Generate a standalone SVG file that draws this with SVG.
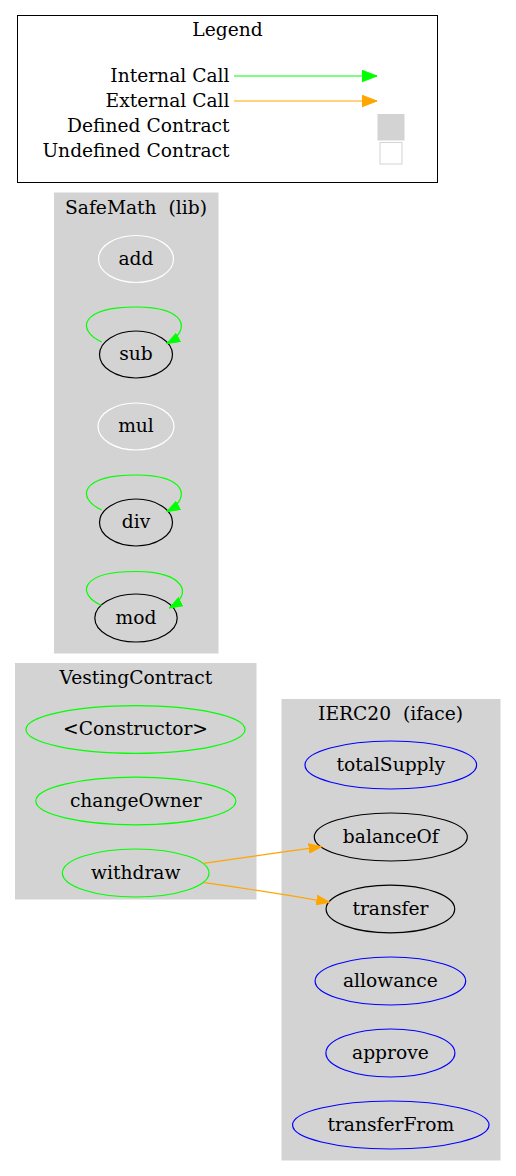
<svg xmlns="http://www.w3.org/2000/svg" width="516" height="1176" viewBox="0 0 516 1176">
<style>
text{font-family:"DejaVu Serif","Liberation Serif",serif;font-size:18.67px;fill:#000;text-anchor:middle;white-space:pre}
.r{text-anchor:end}
.cl{fill:#d3d3d3;stroke:#d3d3d3;stroke-width:1}
.fn{fill:none;stroke-width:1.2}
.k{stroke:#000}.w{stroke:#fff}.g{stroke:#00ff00}.b{stroke:#0000ff}
.ei{fill:none;stroke:#00ff00;stroke-width:1.2;marker-end:url(#ag)}
.ee{fill:none;stroke:#ffa500;stroke-width:1.2;marker-end:url(#ao)}
</style>
<defs>
<marker id="ag" markerUnits="userSpaceOnUse" markerWidth="14" markerHeight="10" refX="13" refY="5" orient="auto"><path d="M0,0.3L13,5L0,9.7z" fill="#00ff00" stroke="#00ff00"/></marker>
<marker id="ao" markerUnits="userSpaceOnUse" markerWidth="14" markerHeight="10" refX="13" refY="5" orient="auto"><path d="M0,0.3L13,5L0,9.7z" fill="#ffa500" stroke="#ffa500"/></marker>
<marker id="lg" markerUnits="userSpaceOnUse" markerWidth="16" markerHeight="13" refX="15" refY="6.5" orient="auto"><path d="M0,0.7L15,6.5L0,12.3z" fill="#00ff00" stroke="#00ff00"/></marker>
<marker id="lo" markerUnits="userSpaceOnUse" markerWidth="16" markerHeight="13" refX="15" refY="6.5" orient="auto"><path d="M0,0.7L15,6.5L0,12.3z" fill="#ffa500" stroke="#ffa500"/></marker>
</defs>
<rect width="516" height="1176" fill="#fff"/>

<g id="legend">
<rect x="17.5" y="15.5" width="420" height="167" fill="#fff" stroke="#000"/>
<text x="227.5" y="36">Legend</text>
<text class="r" x="229.5" y="81.5">Internal Call</text>
<text class="r" x="229.5" y="106.5">External Call</text>
<text class="r" x="229.5" y="131.5">Defined Contract</text>
<text class="r" x="229.5" y="157">Undefined Contract</text>
<path d="M234,76H377" fill="none" stroke="#00ff00" stroke-width="1.2" marker-end="url(#lg)"/>
<path d="M234,101H377" fill="none" stroke="#ffa500" stroke-width="1.2" marker-end="url(#lo)"/>
<rect x="378" y="114.5" width="26" height="25.5" fill="#d3d3d3" stroke="#d3d3d3"/>
<rect x="380" y="142.5" width="22" height="21.5" fill="#fff" stroke="#d3d3d3"/>
</g>

<g id="cluster_SafeMath">
<rect class="cl" x="54.5" y="193" width="163.5" height="460"/>
<text x="136" y="214" xml:space="preserve">SafeMath  (lib)</text>
</g>
<g id="cluster_VestingContract">
<rect class="cl" x="15.5" y="663.5" width="240.5" height="235.5"/>
<text x="135.8" y="684">VestingContract</text>
</g>
<g id="cluster_IERC20">
<rect class="cl" x="282" y="699.5" width="218" height="460.5"/>
<text x="390.5" y="720" xml:space="preserve">IERC20  (iface)</text>
</g>

<g id="SafeMath.add"><ellipse class="fn w" cx="136" cy="259" rx="37.5" ry="23.5"/><text x="136" y="264.5">add</text></g>
<g id="SafeMath.sub"><ellipse class="fn k" cx="136" cy="354.5" rx="36.5" ry="23.5"/><text x="136" y="360">sub</text></g>
<g id="SafeMath.mul"><ellipse class="fn w" cx="136" cy="426.5" rx="38" ry="23.5"/><text x="136" y="432">mul</text></g>
<g id="SafeMath.div"><ellipse class="fn k" cx="136" cy="522.5" rx="36.5" ry="23.5"/><text x="136" y="528">div</text></g>
<g id="SafeMath.mod"><ellipse class="fn k" cx="136" cy="618" rx="41.2" ry="24"/><text x="136" y="623.5">mod</text></g>

<g id="VestingContract.constructor"><ellipse class="fn g" cx="135.5" cy="729.5" rx="109.5" ry="23.8"/><text x="135.5" y="735">&lt;Constructor&gt;</text></g>
<g id="VestingContract.changeOwner"><ellipse class="fn g" cx="135.8" cy="801" rx="100" ry="23.8"/><text x="135.8" y="806.5">changeOwner</text></g>
<g id="VestingContract.withdraw"><ellipse class="fn g" cx="135.7" cy="873" rx="73.3" ry="24"/><text x="135.7" y="878.5">withdraw</text></g>

<g id="IERC20.totalSupply"><ellipse class="fn b" cx="390.8" cy="765" rx="85.8" ry="24"/><text x="390.8" y="770.5">totalSupply</text></g>
<g id="IERC20.balanceOf"><ellipse class="fn k" cx="390.8" cy="837" rx="76.5" ry="24"/><text x="390.8" y="842.5">balanceOf</text></g>
<g id="IERC20.transfer"><ellipse class="fn k" cx="390.4" cy="909" rx="64.3" ry="23.8"/><text x="390.4" y="914.5">transfer</text></g>
<g id="IERC20.allowance"><ellipse class="fn b" cx="390.4" cy="981" rx="75.3" ry="24"/><text x="390.4" y="986.5">allowance</text></g>
<g id="IERC20.approve"><ellipse class="fn b" cx="390.4" cy="1053" rx="64.5" ry="24"/><text x="390.4" y="1058.5">approve</text></g>
<g id="IERC20.transferFrom"><ellipse class="fn b" cx="390.8" cy="1125" rx="98.2" ry="24"/><text x="390.8" y="1130.5">transferFrom</text></g>

<g id="connectors">
<path class="ei" d="M101.7,342C76,330 80,307 136,307C186,307 192,330 167,343.5"/>
<path class="ei" d="M101.7,510C76,498 80,475 136,475C186,475 192,498 167,511.5"/>
<path class="ei" d="M101.7,605.5C76,594 80,571.5 136,571.5C186,571.5 193,595 169.5,608"/>
<path class="ee" d="M203.5,863.3C245,857.5 282,852 321.7,846.7"/>
<path class="ee" d="M204.3,882.7C246,888.5 288,895 329.5,902.3"/>
</g>
</svg>
